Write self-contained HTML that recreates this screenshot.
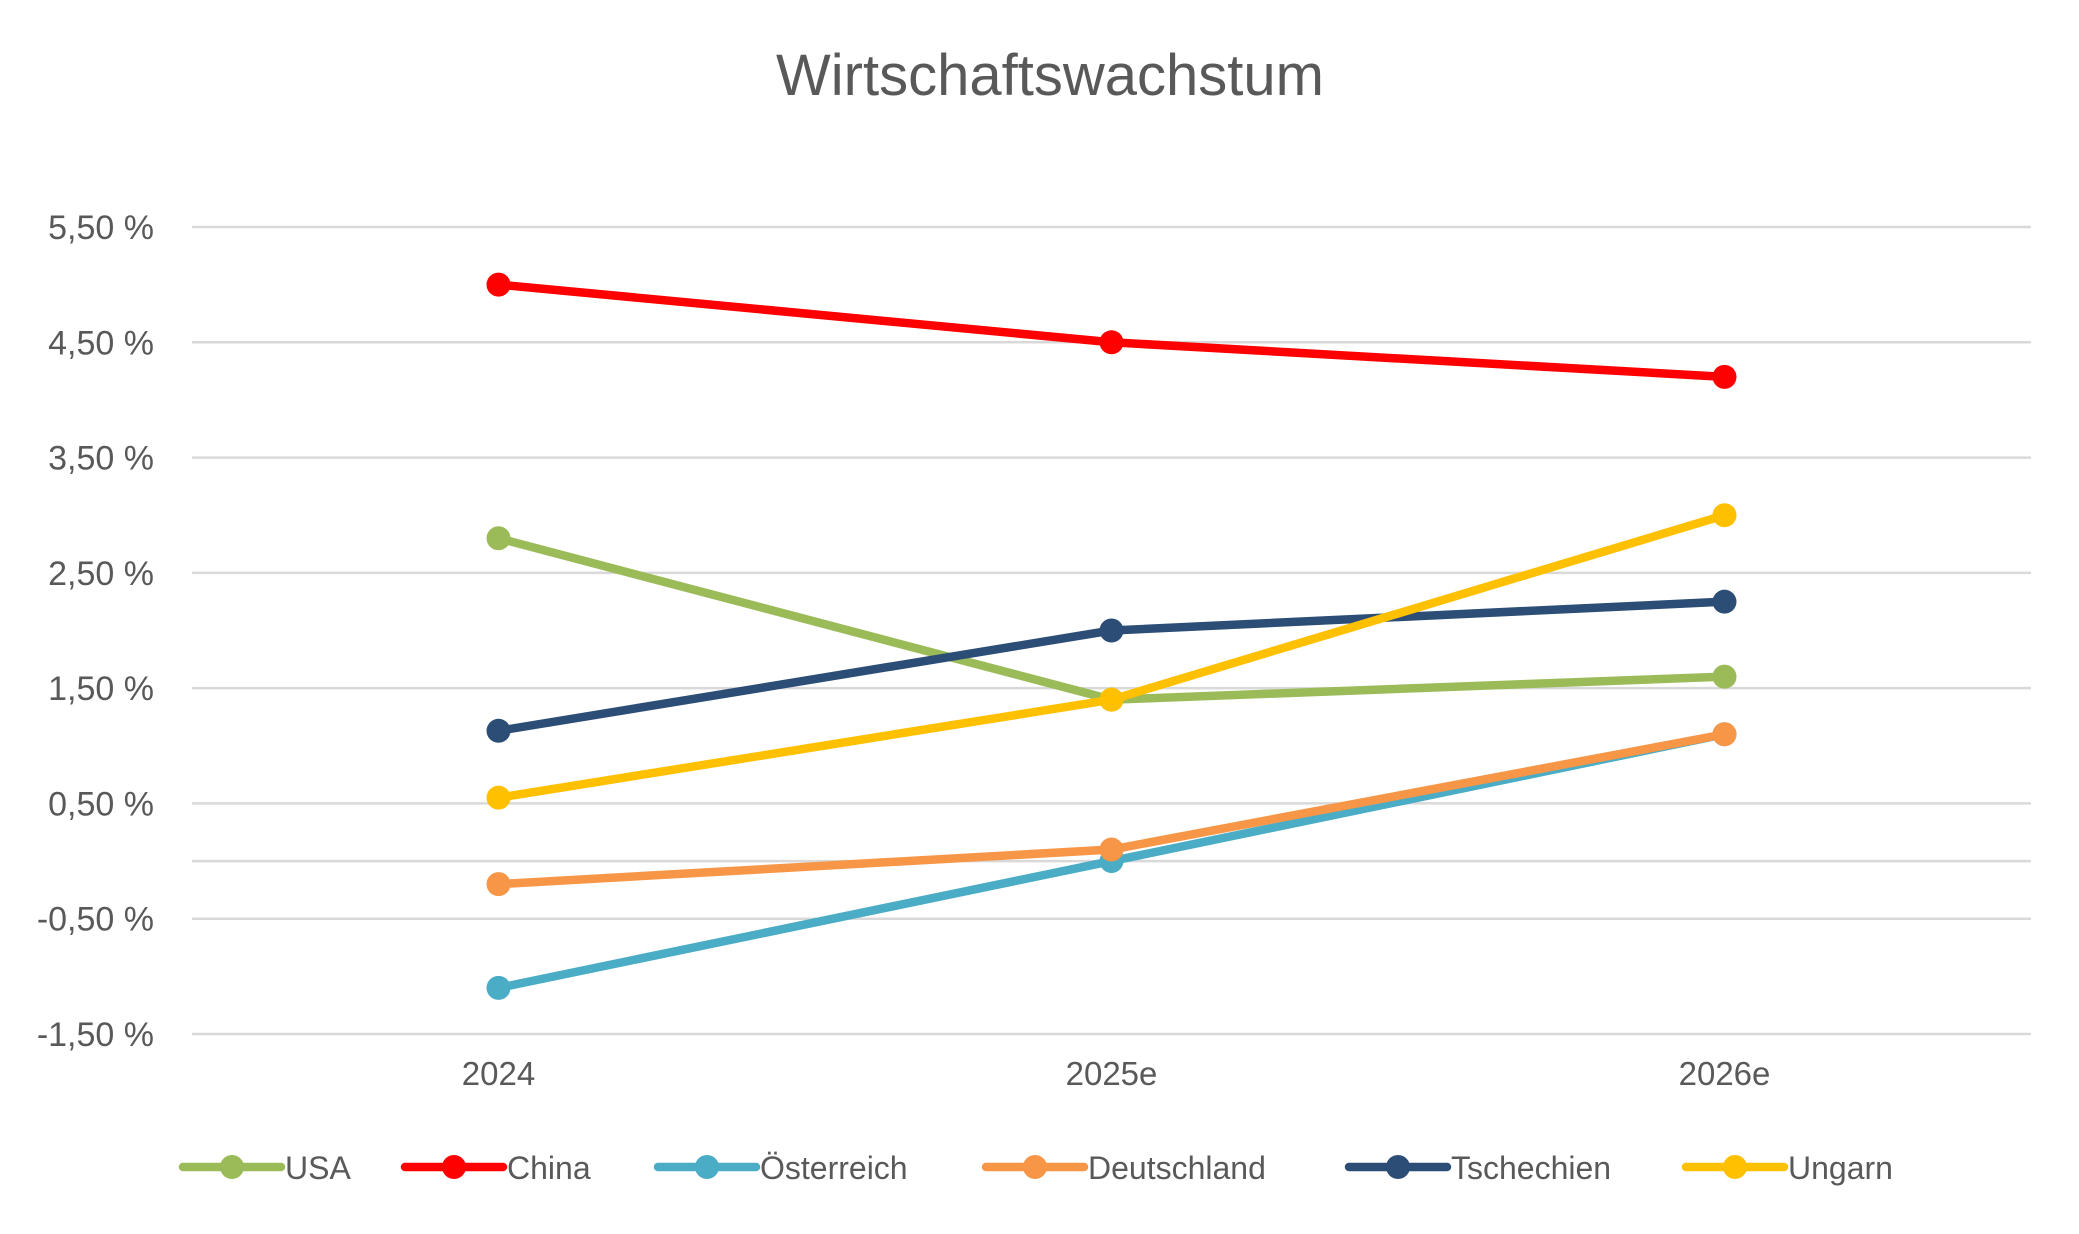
<!DOCTYPE html>
<html><head><meta charset="utf-8"><style>
html,body{margin:0;padding:0;background:#fff;}
svg{display:block;font-family:"Liberation Sans",sans-serif;}
</style></head><body>
<svg id="chart" width="2079" height="1234" viewBox="0 0 2079 1234">
<rect width="2079" height="1234" fill="#fff"/>
<text x="1050" y="95" text-anchor="middle" font-size="58" fill="#595959">Wirtschaftswachstum</text>
<g id="grid"></g><g id="series"></g><g id="legend"></g>
</svg>
<script>
const categories=["2024","2025e","2026e"];
const ticks=[5.5,4.5,3.5,2.5,1.5,0.5,-0.5,-1.5];
const tickLabels=["5,50 %","4,50 %","3,50 %","2,50 %","1,50 %","0,50 %","-0,50 %","-1,50 %"];
const names=["USA","China","Österreich","Deutschland","Tschechien","Ungarn"];
const colors=["#9BBB59","#FF0000","#4BACC6","#F79646","#2C4D75","#FFC000"];
const usa=[2.8,1.4,1.6];
const china=[5.0,4.5,4.2];
const oesterreich=[-1.1,0.0,1.1];
const deutschland=[-0.2,0.1,1.1];
const tschechien=[1.13,2.0,2.25];
const ungarn=[0.55,1.4,3.0];
const seriesData=[usa,china,oesterreich,deutschland,tschechien,ungarn];
const legendX=[183,405,658,986,1349,1686];

const NS="http://www.w3.org/2000/svg";
const X0=192,X1=2031,Ytop=227,Ybot=1034,vMax=5.5,vMin=-1.5;
function y(v){return Ytop+(vMax-v)/(vMax-vMin)*(Ybot-Ytop);}
function x(i){const w=(X1-X0)/categories.length;return X0+w*(i+0.5);}
function mk(tag,attrs,parent){const e=document.createElementNS(NS,tag);for(const k in attrs)e.setAttribute(k,attrs[k]);parent.appendChild(e);return e;}
const grid=document.getElementById('grid');
ticks.forEach((t,i)=>{
  const l=mk('line',{x1:X0,x2:X1,y1:y(t),y2:y(t),stroke:'#d9d9d9','stroke-width':2.5},grid);
  
  
  const tx=mk('text',{x:154,y:y(t)+12,'text-anchor':'end','font-size':34,fill:'#595959'},grid);
  tx.textContent=tickLabels[i];
  
  
});
const ax=mk('line',{x1:X0,x2:X1,y1:y(0),y2:y(0),stroke:'#d9d9d9','stroke-width':2.5},grid);


categories.forEach((c,i)=>{
  const tx=mk('text',{x:x(i),y:1085,'text-anchor':'middle','font-size':33,fill:'#595959'},grid);
  tx.textContent=c;
  
  
});
const sg=document.getElementById('series');
seriesData.forEach((d,s)=>{
  const g=mk('g',{},sg);
  
  
  const p=mk('polyline',{points:d.map((v,i)=>x(i)+','+y(v)).join(' '),fill:'none',stroke:colors[s],'stroke-width':8.5,'stroke-linejoin':'round'},g);
  
  
  d.forEach((v,i)=>{
    const c=mk('circle',{cx:x(i),cy:y(v),r:12,fill:colors[s]},g);
    
    
  });
});
const lg=document.getElementById('legend');
names.forEach((n,s)=>{
  const g=mk('g',{},lg);
  
  
  const lx=legendX[s];
  mk('line',{x1:lx,x2:lx+98,y1:1167,y2:1167,stroke:colors[s],'stroke-width':8.5,'stroke-linecap':'round'},g);
  mk('circle',{cx:lx+49,cy:1167,r:12,fill:colors[s]},g);
  const t=mk('text',{x:lx+102,y:1179,'font-size':32,fill:'#595959'},g);
  t.textContent=n;
});
</script>
</body></html>
